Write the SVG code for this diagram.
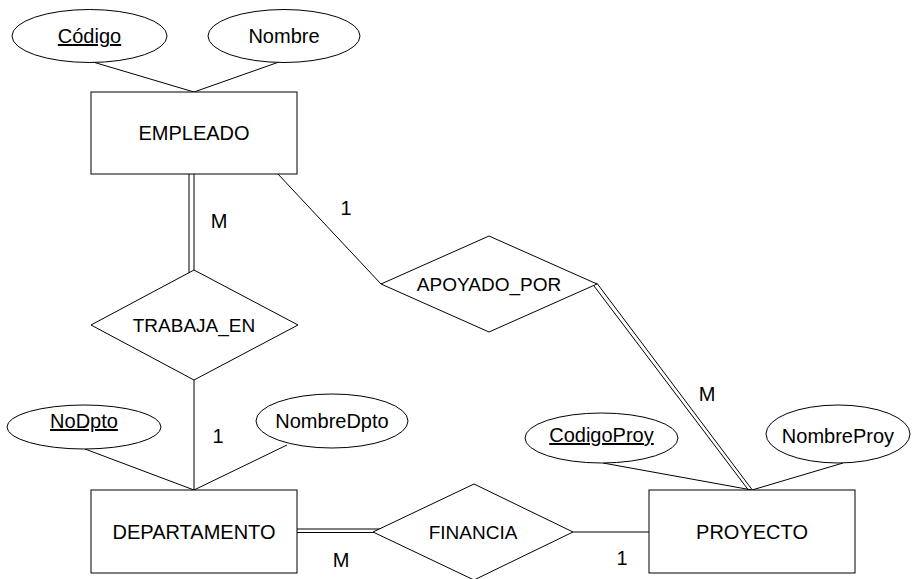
<svg xmlns="http://www.w3.org/2000/svg" width="922" height="579" viewBox="0 0 922 579">
<style>
.s{fill:#fff;stroke:#000;stroke-width:1}
.c{stroke:#000;stroke-width:1;fill:none}
text{font-family:"Liberation Sans",Arial,sans-serif;font-size:20px;fill:#000;text-anchor:middle}
.r{font-size:19px}
.u{text-decoration:underline}
</style>
<rect width="922" height="579" fill="#fff"/>
<g id="connectors">
<line class="c" x1="93" y1="62" x2="194" y2="92"/>
<line class="c" x1="279" y1="62" x2="194" y2="92"/>
<line class="c" x1="189" y1="174" x2="189" y2="273"/>
<line class="c" x1="194" y1="174" x2="194" y2="270"/>
<line class="c" x1="194" y1="380" x2="194" y2="490"/>
<line class="c" x1="277" y1="173" x2="381" y2="284"/>
<line class="c" x1="596.6" y1="282.8" x2="751.6" y2="489"/>
<line class="c" x1="593.4" y1="285.2" x2="748.4" y2="490"/>
<line class="c" x1="85" y1="449" x2="194" y2="490"/>
<line class="c" x1="287" y1="445" x2="194" y2="490"/>
<line class="c" x1="603" y1="463" x2="752" y2="490"/>
<line class="c" x1="843" y1="463" x2="752" y2="490"/>
<line class="c" x1="297" y1="529" x2="380" y2="529"/>
<line class="c" x1="297" y1="532.5" x2="374" y2="532.5"/>
<line class="c" x1="573" y1="532" x2="649" y2="532"/>
<text x="219" y="228">M</text>
<text x="346" y="215">1</text>
<text x="218" y="443">1</text>
<text x="707" y="401">M</text>
<text x="341" y="567">M</text>
<text x="622" y="565">1</text>
</g>
<g id="codigo"><ellipse class="s" cx="89.5" cy="36" rx="77.5" ry="26.5"/><text class="u" x="89.5" y="43">Código</text></g>
<g id="nombre"><ellipse class="s" cx="284" cy="36" rx="76" ry="26.5"/><text x="284" y="43">Nombre</text></g>
<g id="empleado"><rect class="s" x="91" y="92" width="206" height="82"/><text x="194" y="140">EMPLEADO</text></g>
<g id="trabaja_en"><polygon class="s" points="194,270 298,325 194,380 91,325"/><text class="r" x="194" y="332">TRABAJA_EN</text></g>
<g id="apoyado_por"><polygon class="s" points="489,236 597,284 489,332 381,284"/><text class="r" x="489" y="291">APOYADO_POR</text></g>
<g id="nodpto"><ellipse class="s" cx="84" cy="427" rx="77" ry="22"/><text class="u" x="84" y="428">NoDpto</text></g>
<g id="nombredpto"><ellipse class="s" cx="332" cy="421" rx="76" ry="27"/><text x="332" y="428">NombreDpto</text></g>
<g id="departamento"><rect class="s" x="91" y="490" width="206" height="83"/><text x="194" y="539">DEPARTAMENTO</text></g>
<g id="financia"><polygon class="s" points="474,484 573,532 474,580 373,532"/><text class="r" x="473" y="539">FINANCIA</text></g>
<g id="codigoproy"><ellipse class="s" cx="601.5" cy="438" rx="76.5" ry="25"/><text class="u" x="601.5" y="442">CodigoProy</text></g>
<g id="nombreproy"><ellipse class="s" cx="838" cy="434" rx="72" ry="29"/><text x="838" y="443">NombreProy</text></g>
<g id="proyecto"><rect class="s" x="649" y="490" width="206" height="83"/><text x="752" y="539">PROYECTO</text></g>
</svg>
